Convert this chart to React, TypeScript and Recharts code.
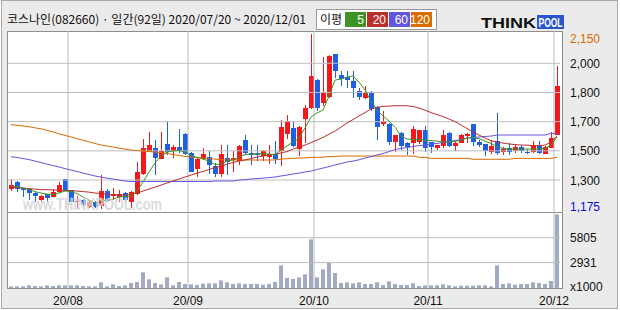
import React from 'react'
import { ComposedChart, Bar, Line, XAxis, YAxis, ReferenceLine } from 'recharts'

// 코스나인(082660) 일봉, 2020/07/20 ~ 2020/12/01 (92 trading days)
const dates = [
  '07/20', '07/21', '07/22', '07/23', '07/24', '07/27', '07/28', '07/29', '07/30', '07/31',
  '08/03', '08/04', '08/05', '08/06', '08/07', '08/10', '08/11', '08/12', '08/13', '08/14',
  '08/18', '08/19', '08/20', '08/21', '08/24', '08/25', '08/26', '08/27', '08/28', '08/31',
  '09/01', '09/02', '09/03', '09/04', '09/07', '09/08', '09/09', '09/10', '09/11', '09/14',
  '09/15', '09/16', '09/17', '09/18', '09/21', '09/22', '09/23', '09/24', '09/25', '09/28',
  '09/29', '10/05', '10/06', '10/07', '10/08', '10/12', '10/13', '10/14', '10/15', '10/16',
  '10/19', '10/20', '10/21', '10/22', '10/23', '10/26', '10/27', '10/28', '10/29', '10/30',
  '11/02', '11/03', '11/04', '11/05', '11/06', '11/09', '11/10', '11/11', '11/12', '11/13',
  '11/16', '11/17', '11/18', '11/19', '11/20', '11/23', '11/24', '11/25', '11/26', '11/27',
  '11/30', '12/01',
]

const opens = [
  1285, 1324, 1291, 1285, 1263, 1226, 1258, 1244, 1269, 1343,
  1282, 1215, 1226, 1189, 1216, 1192, 1278, 1248, 1244, 1263,
  1216, 1258, 1369, 1495, 1514, 1458, 1538, 1495, 1519, 1593,
  1489, 1397, 1453, 1464, 1414, 1372, 1460, 1447, 1445, 1562,
  1488, 1486, 1473, 1468, 1482, 1500, 1590, 1627, 1512, 1679,
  1738, 1893, 1766, 1803, 2040, 1920, 1911, 1890, 1835, 1794,
  1827, 1744, 1649, 1649, 1551, 1599, 1545, 1542, 1549, 1616,
  1547, 1517, 1528, 1601, 1530, 1546, 1586, 1649, 1551, 1536,
  1495, 1554, 1495, 1517, 1499, 1521, 1496, 1495, 1532, 1486,
  1517, 1588,
]
const highs = [
  1341, 1332, 1294, 1288, 1272, 1254, 1260, 1285, 1328, 1343,
  1282, 1250, 1230, 1222, 1220, 1365, 1290, 1294, 1282, 1272,
  1276, 1439, 1564, 1604, 1560, 1603, 1662, 1532, 1620, 1598,
  1492, 1467, 1515, 1497, 1432, 1534, 1534, 1500, 1530, 1590,
  1534, 1534, 1502, 1534, 1553, 1673, 1701, 1664, 1640, 1757,
  2150, 1900, 2022, 2034, 2040, 1946, 1943, 1943, 1850, 1859,
  1833, 1750, 1720, 1655, 1590, 1606, 1551, 1638, 1618, 1638,
  1551, 1534, 1616, 1606, 1548, 1593, 1597, 1650, 1560, 1538,
  1560, 1712, 1523, 1542, 1532, 1532, 1508, 1554, 1554, 1527,
  1606, 1974,
]
const lows = [
  1272, 1272, 1244, 1226, 1216, 1216, 1216, 1240, 1265, 1280,
  1214, 1180, 1190, 1185, 1180, 1175, 1215, 1226, 1215, 1215,
  1180, 1254, 1365, 1495, 1365, 1458, 1477, 1460, 1486, 1477,
  1380, 1356, 1450, 1367, 1354, 1354, 1367, 1382, 1419, 1485,
  1422, 1445, 1441, 1426, 1426, 1419, 1566, 1520, 1473, 1543,
  1735, 1720, 1748, 1794, 1905, 1865, 1850, 1794, 1785, 1785,
  1720, 1562, 1636, 1532, 1495, 1504, 1477, 1480, 1540, 1495,
  1489, 1505, 1517, 1523, 1500, 1542, 1542, 1527, 1523, 1471,
  1480, 1480, 1477, 1477, 1486, 1486, 1480, 1486, 1480, 1486,
  1517, 1588,
]
const closes = [
  1309, 1285, 1278, 1263, 1244, 1248, 1235, 1272, 1309, 1282,
  1216, 1222, 1198, 1216, 1189, 1278, 1222, 1259, 1259, 1222,
  1272, 1383, 1514, 1532, 1458, 1500, 1495, 1519, 1495, 1482,
  1383, 1453, 1480, 1417, 1372, 1482, 1436, 1460, 1528, 1488,
  1475, 1473, 1500, 1482, 1456, 1632, 1664, 1525, 1632, 1738,
  1915, 1738, 1826, 2030, 1946, 1900, 1896, 1850, 1800, 1822,
  1733, 1632, 1668, 1549, 1588, 1528, 1523, 1620, 1616, 1514,
  1518, 1532, 1588, 1530, 1546, 1588, 1596, 1546, 1536, 1495,
  1527, 1489, 1510, 1495, 1521, 1499, 1492, 1532, 1489, 1523,
  1570, 1861,
]
// 거래량 (x1000)
const volumes = [
  192, 192, 192, 307, 230, 192, 307, 230, 307, 307,
  307, 307, 230, 192, 192, 653, 192, 422, 230, 307,
  576, 691, 1805, 998, 576, 422, 1229, 307, 691, 461,
  422, 346, 499, 538, 538, 883, 653, 461, 538, 461,
  461, 461, 384, 461, 691, 2611, 1152, 1037, 1229, 1574,
  5606, 1229, 2150, 2880, 1728, 576, 653, 538, 653, 461,
  461, 653, 346, 768, 461, 346, 346, 538, 230, 307,
  307, 307, 422, 307, 192, 269, 269, 269, 307, 307,
  192, 2611, 461, 538, 384, 461, 461, 653, 576, 461,
  806, 8486,
]

// 이동평균
const ma5 = [
  1304, 1301, 1293, 1284, 1273, 1265, 1259, 1256, 1265, 1276,
  1273, 1262, 1243, 1226, 1209, 1220, 1226, 1231, 1243, 1245,
  1248, 1276, 1326, 1382, 1432, 1471, 1493, 1499, 1502, 1493,
  1474, 1463, 1454, 1443, 1424, 1426, 1443, 1449, 1465, 1479,
  1482, 1482, 1485, 1482, 1479, 1504, 1527, 1549, 1571, 1627,
  1688, 1711, 1727, 1805, 1894, 1900, 1911, 1917, 1883, 1839,
  1777, 1727, 1694, 1666, 1632, 1582, 1566, 1563, 1563, 1560,
  1557, 1554, 1549, 1549, 1552, 1560, 1571, 1574, 1568, 1554,
  1541, 1524, 1513, 1510, 1510, 1510, 1510, 1510, 1510, 1515,
  1532, 1577,
]
const ma20 = [
  1298, 1295, 1293, 1290, 1287, 1284, 1284, 1282, 1282, 1279,
  1279, 1276, 1273, 1270, 1265, 1262, 1259, 1256, 1254, 1254,
  1256, 1265, 1276, 1287, 1298, 1309, 1321, 1332, 1343, 1354,
  1365, 1376, 1385, 1396, 1407, 1415, 1426, 1435, 1443, 1449,
  1457, 1465, 1471, 1476, 1482, 1488, 1496, 1510, 1521, 1532,
  1546, 1560, 1575, 1593, 1610, 1632, 1655, 1674, 1694, 1713,
  1733, 1741, 1748, 1749, 1751, 1751, 1751, 1747, 1738, 1727,
  1713, 1702, 1691, 1677, 1663, 1644, 1624, 1605, 1588, 1571,
  1557, 1549, 1543, 1538, 1535, 1532, 1532, 1529, 1529, 1532,
  1549, 1582,
]
const ma60 = [
  1467, 1463, 1457, 1451, 1443, 1435, 1426, 1418, 1410, 1401,
  1393, 1385, 1376, 1368, 1360, 1354, 1348, 1343, 1337, 1332,
  1329, 1329, 1329, 1329, 1329, 1329, 1329, 1329, 1329, 1329,
  1329, 1329, 1329, 1329, 1332, 1332, 1332, 1332, 1337, 1340,
  1343, 1346, 1348, 1351, 1354, 1360, 1365, 1371, 1376, 1382,
  1387, 1396, 1404, 1412, 1421, 1429, 1438, 1443, 1450, 1460,
  1468, 1477, 1485, 1496, 1507, 1514, 1518, 1524, 1529, 1532,
  1538, 1541, 1546, 1551, 1557, 1563, 1571, 1574, 1577, 1580,
  1582, 1588, 1588, 1588, 1588, 1588, 1588, 1588, 1588, 1588,
  1597, 1597,
]
const ma120 = [
  1646, 1642, 1638, 1634, 1628, 1623, 1614, 1605, 1595, 1586,
  1577, 1568, 1559, 1550, 1541, 1532, 1527, 1521, 1515, 1510,
  1504, 1502, 1499, 1496, 1493, 1490, 1485, 1479, 1474, 1469,
  1465, 1463, 1460, 1457, 1454, 1451, 1449, 1449, 1449, 1449,
  1449, 1449, 1449, 1449, 1449, 1454, 1456, 1458, 1460, 1461,
  1463, 1464, 1465, 1468, 1469, 1471, 1471, 1471, 1471, 1471,
  1471, 1471, 1471, 1471, 1471, 1471, 1471, 1471, 1464, 1464,
  1458, 1458, 1458, 1458, 1458, 1458, 1458, 1453, 1453, 1453,
  1453, 1453, 1453, 1453, 1458, 1458, 1458, 1458, 1458, 1458,
  1458, 1464,
]

// axis ticks: the grid splits 1,175 ~ 2,150 into six equal steps, labels are rounded
const priceDomain = [1159.4, 2167.3]
const priceTicks = [2150, 1987.5, 1825, 1662.5, 1500, 1337.5, 1175]
const priceTickLabels = ['2,150', '2,000', '1,800', '1,700', '1,500', '1,300', '1,175']
const priceGrid = [1987.5, 1825, 1662.5, 1500, 1337.5]
const volumeDomain = [0, 8763]
const volumeTicks = [0, 2931, 5805]
const volumeTickLabels = ['x1000', '2931', '5805']
const volumeGrid = [2931, 5805]
const monthStarts = ['08/03', '09/01', '10/05', '11/02', '12/01']
const monthLabels = ['20/08', '20/09', '20/10', '20/11', '20/12']

const maSeries = [
  { key: 'ma5', label: '5', color: '#3d9423' },
  { key: 'ma20', label: '20', color: '#bb2f2a' },
  { key: 'ma60', label: '60', color: '#6456dc' },
  { key: 'ma120', label: '120', color: '#d96b00' },
]

const data = dates.map((date, i) => ({
  date,
  open: opens[i],
  high: highs[i],
  low: lows[i],
  close: closes[i],
  range: [lows[i], highs[i]],
  volume: volumes[i],
  ma5: ma5[i],
  ma20: ma20[i],
  ma60: ma60[i],
  ma120: ma120[i],
}))

const UP = '#f2181c'
const DOWN = '#1f5fe4'
const GRID = '#bdbdbd'
const NUM_FONT = "'Liberation Sans', Arial, sans-serif"
const KR_FONT = "'Noto Sans CJK KR', 'Noto Sans', sans-serif"

const W = 620
const PLOT_LEFT = 8
const AXIS_W = 60

// candle drawn inside the [low, high] range bar
const Candle = (p: any) => {
  const { x, y, width, height, payload } = p
  if (x == null || !payload) return null
  const top = Math.min(y, y + height)
  const bottom = Math.max(y, y + height)
  const span = payload.high - payload.low
  const toY = (v: number) => (span ? top + ((payload.high - v) / span) * (bottom - top) : top)
  const color = payload.close >= payload.open ? UP : DOWN
  const bx = Math.round(x)
  const bw = Math.round(width)
  const cx = bx + Math.floor(bw / 2)
  const yo = toY(payload.open)
  const yc = toY(payload.close)
  const bt = Math.round(Math.min(yo, yc))
  const bh = Math.max(1, Math.round(Math.abs(yo - yc)))
  return (
    <g shapeRendering="crispEdges">
      <rect x={cx} y={Math.round(top)} width={1} height={Math.max(1, Math.round(bottom - top))} fill={color} />
      <rect x={bx} y={bt} width={bw} height={bh} fill={color} />
    </g>
  )
}

const PriceTick = (p: any) => {
  const i = priceTicks.indexOf(p.payload.value)
  const last = priceTicks.length - 1
  const fill = i === 0 ? '#d96b00' : i === last ? '#0a0ad0' : '#111'
  const dy = i === 0 ? 4 : i === last ? -2.5 : 0
  return (
    <text x={570} y={p.y + dy + 4.5} fontSize={12} fontFamily={NUM_FONT} fill={fill}>
      {priceTickLabels[i]}
    </text>
  )
}

const VolumeTick = (p: any) => {
  const i = volumeTicks.indexOf(p.payload.value)
  const dy = i === 0 ? -2 : 0
  return (
    <text x={570} y={p.y + dy + 4.5} fontSize={12} fontFamily={NUM_FONT} fill="#111">
      {volumeTickLabels[i]}
    </text>
  )
}

// labels sit on the month gridline, i.e. the left edge of the day slot (half a band left)
const MonthTick = (p: any) => {
  const i = monthStarts.indexOf(p.payload.value)
  return (
    <text x={p.x - 3} y={93} textAnchor="middle" fontSize={12} fontFamily={NUM_FONT} fill="#111">
      {monthLabels[i]}
    </text>
  )
}

function Header() {
  return (
    <svg width={W} height={310} style={{ position: 'absolute', left: 0, top: 0, pointerEvents: 'none' }}>
      <text x={7} y={24} fontSize={12} fontFamily={KR_FONT} fill="#111">
        코스나인(082660) · 일간(92일) 2020/07/20 ~ 2020/12/01
      </text>

      {/* 이평 legend */}
      <rect x={316.5} y={9.5} width={120} height={20} fill="#fff" stroke="#9a9a9a" />
      <text x={320} y={24} fontSize={12} fontFamily={KR_FONT} fill="#111">이평</text>
      {maSeries.map((s, i) => {
        const bx = 345 + i * 22
        return (
          <g key={s.key}>
            <rect x={bx} y={12} width={21} height={15} fill={s.color} />
            <text x={bx + 19} y={24} textAnchor="end" fontSize={12} fontFamily={NUM_FONT} fill="#fff">
              {s.label}
            </text>
          </g>
        )
      })}

      {/* logo */}
      <text x={481} y={28} fontSize={15} fontWeight="bold" fontFamily={NUM_FONT} fill="#111"
        textLength={55} lengthAdjust="spacingAndGlyphs">THINK</text>
      <rect x={537} y={15} width={27} height={14} fill="#2a55cc" />
      <text x={538.5} y={27} fontSize={13} fontWeight="bold" fontFamily={NUM_FONT} fill="#fff"
        textLength={24} lengthAdjust="spacingAndGlyphs">POOL</text>

      {/* watermark */}
      <text x={23} y={210} fontSize={16} fontWeight="bold" fill="#cdcdcd" fillOpacity={0.75}
        stroke="#fff" strokeWidth={0.7} strokeOpacity={0.8} fontFamily={NUM_FONT}
        style={{ paintOrder: 'stroke' }} textLength={139} lengthAdjust="spacingAndGlyphs">
        www.THINKPOOL.com
      </text>
    </svg>
  )
}

export default function App() {
  return (
    <div style={{ position: 'absolute', left: 0, top: 0, width: W, height: 310, background: '#fff' }}>
      <div style={{ position: 'absolute', left: 1, top: 0, width: 617, height: 309, boxSizing: 'border-box', border: '1px solid #a9a9a9', background: '#ebebeb' }} />
      <div style={{ position: 'absolute', left: 7, top: 31, width: 556, height: 182, boxSizing: 'border-box', border: '1px solid #8f8f8f', background: '#fff' }} />
      <div style={{ position: 'absolute', left: 7, top: 212, width: 556, height: 77, boxSizing: 'border-box', border: '1px solid #8f8f8f', background: '#fff' }} />

      {/* 가격 */}
      <div style={{ position: 'absolute', left: 0, top: 0 }}>
        <ComposedChart width={W} height={230} data={data} margin={{ top: 31, right: 0, bottom: 18, left: PLOT_LEFT }}>
          <XAxis dataKey="date" hide />
          <YAxis orientation="right" width={AXIS_W} domain={priceDomain} ticks={priceTicks} interval={0}
            axisLine={false} tickLine={false} tick={<PriceTick />} />
          {priceGrid.map((v) => (
            <ReferenceLine key={v} y={v} stroke={GRID} strokeWidth={1} />
          ))}
          {monthStarts.map((d) => (
            <ReferenceLine key={d} x={d} position="start" stroke={GRID} strokeWidth={1} />
          ))}
          <Bar dataKey="range" barSize={5} shape={<Candle />} isAnimationActive={false} />
          {maSeries.slice().reverse().map((s) => (
            <Line key={s.key} dataKey={s.key} type="linear" stroke={s.color} strokeWidth={1}
              dot={false} activeDot={false} isAnimationActive={false} />
          ))}
        </ComposedChart>
      </div>

      {/* 거래량 */}
      <div style={{ position: 'absolute', left: 0, top: 212 }}>
        <ComposedChart width={W} height={98} data={data} margin={{ top: 0, right: 0, bottom: 0, left: PLOT_LEFT }}>
          <XAxis dataKey="date" height={22} ticks={monthStarts} interval={0}
            axisLine={false} tickLine={false} tick={<MonthTick />} />
          <YAxis orientation="right" width={AXIS_W} domain={volumeDomain} ticks={volumeTicks} interval={0}
            axisLine={false} tickLine={false} tick={<VolumeTick />} />
          {volumeGrid.map((v) => (
            <ReferenceLine key={v} y={v} stroke={GRID} strokeWidth={1} />
          ))}
          {monthStarts.map((d) => (
            <ReferenceLine key={d} x={d} position="start" stroke={GRID} strokeWidth={1} />
          ))}
          <Bar dataKey="volume" barSize={4} fill="#a2aac2" isAnimationActive={false} />
        </ComposedChart>
      </div>

      <Header />
    </div>
  )
}
